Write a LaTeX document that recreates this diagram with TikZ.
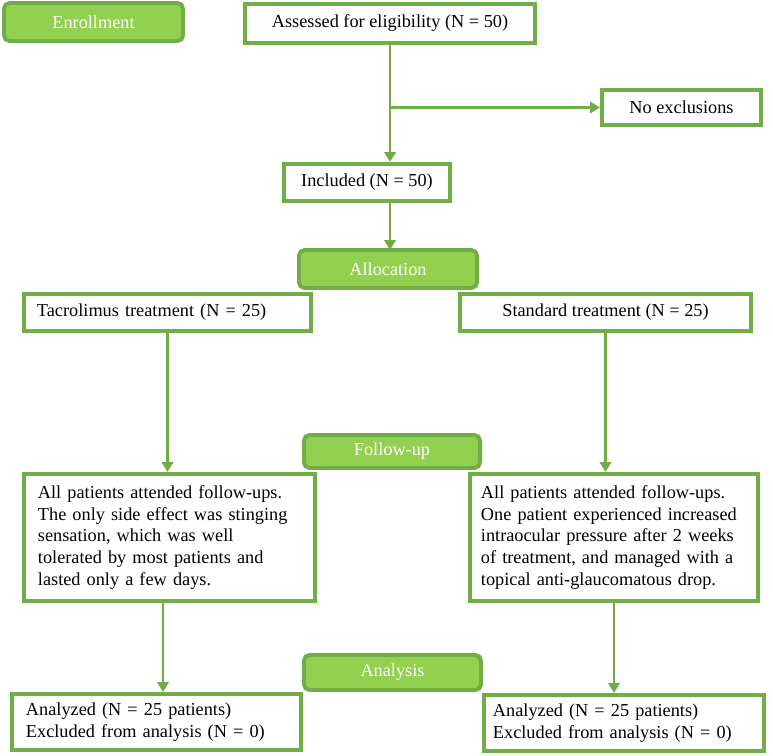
\documentclass[tikz,border=0pt]{standalone}
\usepackage{fontspec}
\setmainfont{Liberation Serif}
\usetikzlibrary{arrows.meta,calc}
\definecolor{boxgreen}{HTML}{70AD47}
\definecolor{headgreen}{HTML}{92D050}

\begin{document}
\begin{tikzpicture}[x=0.025cm,y=-0.025cm,
   box/.style={draw=boxgreen,line width=2.8pt,fill=white,inner sep=0pt,font=\fontsize{13}{15.4}\selectfont},
   head/.style={draw=boxgreen,line width=2.8pt,fill=headgreen,rounded corners=4pt,inner sep=0pt,text=white,font=\fontsize{13}{15}\selectfont},
   arr/.style={draw=boxgreen,line width=2pt,-{Triangle[width=8pt,length=7pt]}}]
   \useasboundingbox (0,0) rectangle (773,755);
   % enrollment
   \node[box,minimum width=7.25cm,minimum height=0.975cm] (assess) at (390,23.5) {Assessed for eligibility (N = 50)};
   \node[box,minimum width=3.975cm,minimum height=0.875cm] (noexcl) at (681.5,107.5) {No exclusions};
   \node[box,minimum width=4.15cm,minimum height=0.925cm] (incl) at (367,182.5) {Included (N = 50)};
   % allocation
   \node[box,align=left,text width=6.525cm,inner xsep=0.325cm,minimum height=0.925cm] (tacro) at (167.5,312.5) {Tacrolimus treatment (N = 25)};
   \node[box,minimum width=7.275cm,minimum height=0.925cm] (stand) at (605.5,312.5) {Standard treatment (N = 25)};
   % follow-up
   \node[box,align=left,text width=6.575cm,inner xsep=0.35cm,minimum height=3.175cm] (fleft) at (169.5,537.5) {All patients attended follow-ups.\\The only side effect was stinging\\sensation, which was well\\tolerated by most patients and\\lasted only a few days.};
   \node[box,align=left,text width=6.65cm,inner xsep=0.275cm,minimum height=3.175cm] (fright) at (614,537.5) {All patients attended follow-ups.\\One patient experienced increased\\intraocular pressure after 2 weeks\\of treatment, and managed with a\\topical anti-glaucomatous drop.};
   % analysis
   \node[box,align=left,text width=6.525cm,inner xsep=0.35cm,minimum height=1.4cm] (aleft) at (156.5,722) {Analyzed (N = 25 patients)\\Excluded from analysis (N = 0)};
   \node[box,align=left,text width=6.55cm,inner xsep=0.225cm,minimum height=1.4cm] (aright) at (624,723) {Analyzed (N = 25 patients)\\Excluded from analysis (N = 0)};

   % connectors
   \coordinate (br) at (assess.south |- noexcl.west);
   \draw[arr] (assess.south) -- (assess.south |- incl.north);
   \draw[arr] (br) -- (noexcl.west);
   \draw[arr] (assess.south |- incl.south) -- (assess.south |- 0,250);
   \draw[arr] (tacro.south) -- (tacro.south |- fleft.north);
   \draw[arr] (stand.south) -- (stand.south |- fright.north);
   \coordinate (mid) at ($(fleft.south)!.5!(aleft.north)$);
   \draw[arr] (mid |- fleft.south) -- (mid |- aleft.north);
   \draw[arr] (fright.south) -- (fright.south |- aright.north);

   % stage headers
   \node[head,minimum width=4.475cm,minimum height=0.95cm] (enroll) at (93.5,22) {Enrollment};
   \node[head,minimum width=4.45cm,minimum height=0.95cm] (alloc) at (388,269) {Allocation};
   \node[head,minimum width=4.4cm,minimum height=0.825cm] (follow) at (392,451.5) {Follow-up};
   \node[head,minimum width=4.425cm,minimum height=0.875cm] (analysis) at (392.5,672.5) {Analysis};
\end{tikzpicture}
\end{document}
